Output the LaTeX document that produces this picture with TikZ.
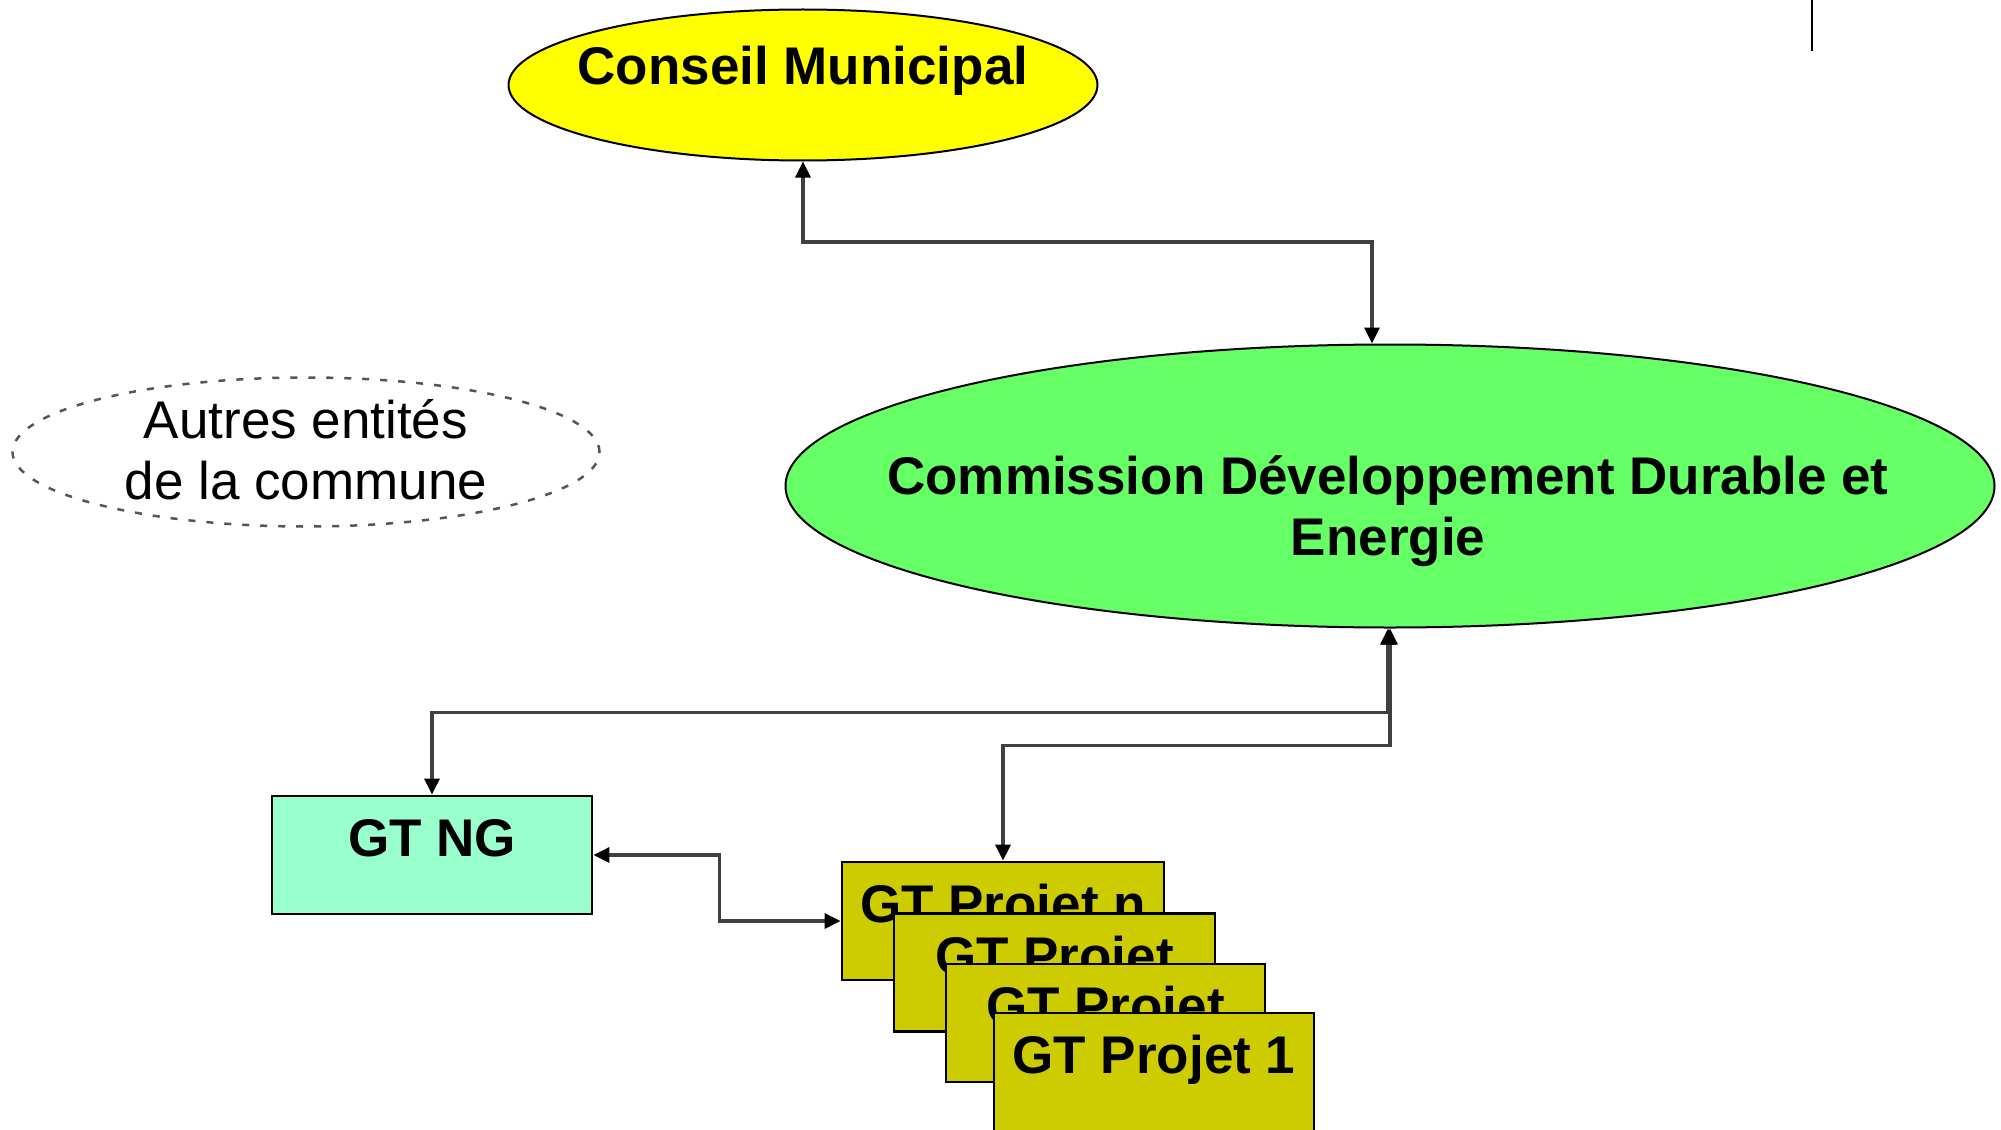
\documentclass[tikz,border=0pt]{standalone}
\usepackage{fontspec}
\setmainfont{Liberation Sans}
\usetikzlibrary{arrows.meta,shapes.geometric}
\definecolor{cmyellow}{HTML}{FFFF00}
\definecolor{cdgreen}{HTML}{66FF66}
\definecolor{nggreen}{HTML}{99FFCC}
\definecolor{pjyellow}{HTML}{CCCC00}
\definecolor{linegray}{HTML}{404040}
\definecolor{dashgray}{HTML}{555555}
\begin{document}
\begin{tikzpicture}[x=1pt,y=-1pt,
  conn/.style={draw=linegray,line width=3.2pt,{Triangle[length=16pt,width=15pt,color=black]}-{Triangle[length=16pt,width=15pt,color=black]}},
  oval/.style={ellipse,draw=black,line width=2pt,inner sep=0pt},
  gtbox/.style={rectangle,draw=black,line width=2.8pt,inner sep=0pt,minimum width=320pt,minimum height=118pt},
  bigtxt/.style={font=\fontsize{53}{61}\selectfont\bfseries,inner sep=0pt,align=center},
  plaintxt/.style={font=\fontsize{53}{61}\selectfont,inner sep=0pt,align=center}]
\useasboundingbox (0,0) rectangle (2001,1129);
\fill[white] (0,0) rectangle (2001,1129);

% ellipses
\node[oval,fill=cmyellow,minimum width=589pt,minimum height=151pt] (cm) at (803,85) {};
\node[bigtxt,anchor=base] (cmt) at (803,85) {Conseil Municipal};

\node[oval,fill=cdgreen,minimum width=1209pt,minimum height=283pt] (cd) at (1390,486) {};
\node[bigtxt,anchor=base] (cdt) at (1388,555) {Commission Développement Durable et\\Energie};

\node[ellipse,draw=dashgray,line width=2.5pt,dash pattern=on 7pt off 11pt,inner sep=0pt,minimum width=587pt,minimum height=149pt] (au) at (306,452) {};
\node[plaintxt,anchor=base] (aut) at (306,499) {Autres entités\\de la commune};

% top-right line
\coordinate (tr1) at (1812,0);
\coordinate (tr2) at (1812,51);
\draw[line width=2.2pt,black] (tr1) -- (tr2);

% boxes
\node[gtbox,fill=nggreen] (ng) at (432,855) {};
\node[bigtxt,anchor=base] (ngt) at ([yshift=-62pt]ng.north) {GT NG};

\node[gtbox,fill=pjyellow,minimum width=322pt] (pn) at (1003,921) {};
\node[bigtxt,anchor=base] (pnt) at ([yshift=-62pt]pn.north) {GT Projet n};
\node[gtbox,fill=pjyellow,minimum width=321pt] (p3) at (1054.5,972.5) {};
\node[bigtxt,anchor=base] (p3t) at ([yshift=-62pt]p3.north) {GT Projet};
\node[gtbox,fill=pjyellow,minimum width=319pt] (p2) at (1105.5,1023) {};
\node[bigtxt,anchor=base] (p2t) at ([yshift=-62pt]p2.north) {GT Projet};
\node[gtbox,fill=pjyellow] (p1) at (1154,1072) {};
\node[bigtxt,anchor=base] (p1t) at ([yshift=-62pt]p1.north) {GT Projet 1};

% connectors
\coordinate (j1) at (1372,242);
\draw[conn] (cm.south) |- (j1) -- (j1 |- cd.north);
\draw[conn] ([xshift=-2pt]cd.south) -- ++(0,84) -| (ng.north);
\draw[conn] (cd.south) -- ++(0,117) -| (pn.north);
\draw[conn] (ng.east) -- ++(126,0) |- (pn.west);
\end{tikzpicture}
\end{document}
